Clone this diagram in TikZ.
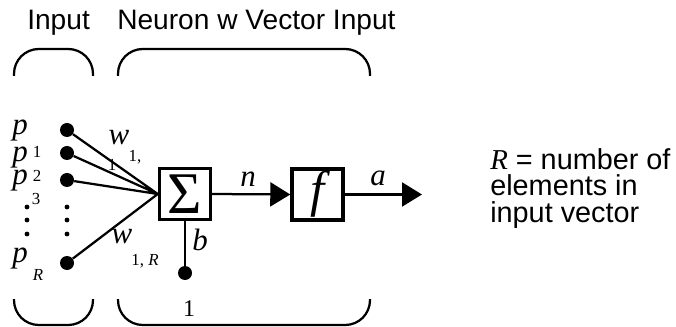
\documentclass[tikz,border=0pt]{standalone}
\usepackage{fontspec}
\setmainfont{Liberation Sans}
\newfontfamily\tms{Liberation Serif}
\usetikzlibrary{arrows.meta}
\tikzset{
  dt/.style={circle,fill=black,minimum size=0.35cm,inner sep=0pt},
  sdt/.style={circle,fill=black,minimum size=0.12cm,inner sep=0pt},
  blk/.style={rectangle,draw=black,fill=white,line width=2.3pt,minimum size=1.28cm,inner sep=0pt},
  lnk/.style={draw=black,line width=1.6pt},
  msg/.style={-{Triangle[length=0.5cm,width=0.6cm]},line width=1.6pt,draw=black},
  brc/.style={draw=black,line width=1.6pt,rounded corners=0.62cm},
  ttl/.style={font=\fontsize{20}{20}\selectfont,inner sep=0pt,anchor=base west},
  var/.style={font=\tms\itshape\fontsize{22}{22}\selectfont,inner sep=0pt},
  sb/.style={font=\tms\fontsize{12}{12}\selectfont,inner sep=0pt},
  sbi/.style={font=\tms\itshape\fontsize{12}{12}\selectfont,inner sep=0pt},
}
\begin{document}
\begin{tikzpicture}[x=0.025cm,y=-0.025cm]
\useasboundingbox (0,0) rectangle (676,327);
% headings and braces
\node[ttl] (tin) at (27,30) {Input};
\node[ttl] (tnv) at (117,30) {Neuron w Vector Input};
\draw[brc] (14,76) -- (14,49) -- (93,49) -- (93,76);
\draw[brc] (118,76) -- (118,49) -- (370,49) -- (370,76);
\draw[brc] (14,299) -- (14,325) -- (93,325) -- (93,299);
\draw[brc] (118,299) -- (118,325) -- (370,325) -- (370,299);
% inputs
\node[var] (p1) at (20,131) {p}; \node[var] (p2) at (20,158) {p};
\node[var] (p3) at (20,181) {p}; \node[var] (pR) at (20,259) {p};
\node[sb] (s1) at (37,152) {1}; \node[sb] (s2) at (37,176) {2};
\node[sb] (s3) at (36,199) {3}; \node[sbi] (sR) at (38,275) {R};
\foreach \y [count=\i] in {207,220,234} {
  \node[sdt] (lv\i) at (27,\y) {};
  \node[sdt] (rv\i) at (67,\y) {};
}
\node[dt] (i1) at (67,130) {}; \node[dt] (i2) at (67,153) {};
\node[dt] (i3) at (67,180) {}; \node[dt] (iR) at (67,263) {};
% neuron
\node[blk,font=\tms\fontsize{42}{42}\selectfont] (sum) at (185,194) {Σ};
\node[blk,font=\tms\itshape\fontsize{36}{36}\selectfont] (f) at (317.5,194.5) {f};
\draw[lnk] (i1) -- (sum.west) (i2) -- (sum.west) (i3) -- (sum.west) (iR) -- (sum.west);
\node[var] (w1) at (119,138) {w}; \node[sb] (w1s) at (135,157) {1,};
\node[sb] (w1t) at (112,165) {1};
\node[var] (wR) at (122,237) {w};
\node[sb] (wRs) at (145,261) {1, \textit{R}};
\node[dt] (one) at (185,273) {};
\draw[lnk] (sum.south) -- (one);
\node[var] (b) at (200,240) {b};
\node[sb,font=\tms\fontsize{17}{17}\selectfont] (onel) at (189,309) {1};
\draw[msg] (sum.east) -- (f.west);
\node[var] (n) at (248,179) {n};
\coordinate (out) at (422,194.5);
\draw[msg] (f.east) -- (out);
\node[var] (a) at (378,178) {a};
% note
\node[anchor=north west,align=left,inner sep=0pt,font=\fontsize{20.5}{18.8}\selectfont] (note) at (490,148)
  {{\tms\itshape R} = number of\\ elements in\\ input vector};
\end{tikzpicture}
\end{document}
